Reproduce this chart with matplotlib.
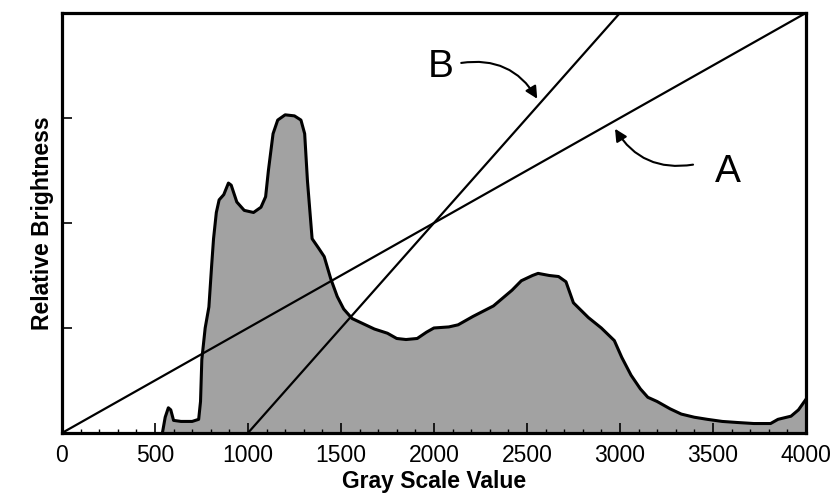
import numpy as np
import matplotlib
matplotlib.use("Agg")
from matplotlib import pyplot as plt
from matplotlib.ticker import MultipleLocator

plt.rcParams['font.family'] = ['Liberation Sans', 'DejaVu Sans']

# histogram outline (gray scale value, relative brightness)
hist_x = [540, 555, 572, 585, 600, 640, 700, 735, 745, 752, 770, 790, 805, 815, 830, 845, 870, 895,
          910, 940, 980, 1030, 1070, 1095, 1110, 1135, 1160, 1200, 1250, 1285, 1305, 1320, 1345,
          1380, 1410, 1445, 1480, 1515, 1560, 1620, 1680, 1750, 1800, 1850, 1910, 1960, 2000,
          2080, 2130, 2210, 2320, 2420, 2470, 2530, 2560, 2620, 2670, 2710, 2750, 2830, 2900,
          2970, 3010, 3060, 3110, 3150, 3200, 3270, 3330, 3400, 3470, 3550, 3630, 3720, 3810,
          3850, 3920, 3960, 4000]
hist_y = [0.0, 0.15, 0.24, 0.22, 0.12, 0.11, 0.11, 0.13, 0.3, 0.7, 1.0, 1.2, 1.6, 1.85, 2.1, 2.22,
          2.27, 2.38, 2.36, 2.2, 2.12, 2.1, 2.15, 2.25, 2.5, 2.85, 2.98, 3.03, 3.02, 2.98, 2.85,
          2.4, 1.85, 1.76, 1.68, 1.47, 1.3, 1.18, 1.09, 1.04, 0.99, 0.95, 0.9, 0.89, 0.9, 0.96,
          1.0, 1.01, 1.03, 1.11, 1.21, 1.36, 1.45, 1.5, 1.52, 1.5, 1.49, 1.44, 1.24, 1.1, 1.0,
          0.88, 0.72, 0.55, 0.42, 0.34, 0.3, 0.23, 0.18, 0.15, 0.13, 0.11, 0.1, 0.09, 0.09,
          0.13, 0.16, 0.22, 0.32]

# the two transfer lines
line_a_x = [0, 4000]
line_a_y = [0, 4]
line_b_x = [1000, 3000]
line_b_y = [0, 4]

x_ticks = [0, 500, 1000, 1500, 2000, 2500, 3000, 3500, 4000]
y_ticks = [1, 2, 3]

fig = plt.figure(figsize=(8.34, 4.99), dpi=100)
ax = fig.add_axes([0.0743, 0.1323, 0.892, 0.8417])

ax.fill_between(hist_x, hist_y, 0, color='#a2a2a2', linewidth=0)
ax.plot(hist_x, hist_y, color='black', lw=2.2)

ax.plot(line_a_x, line_a_y, color='black', lw=1.6)
ax.plot(line_b_x, line_b_y, color='black', lw=1.6)

ax.set_xlim(0, 4000)
ax.set_ylim(0, 4)
ax.set_xticks(x_ticks)
ax.set_xticklabels([str(t) for t in x_ticks])
ax.xaxis.set_minor_locator(MultipleLocator(100))
ax.set_yticks(y_ticks)
ax.set_yticklabels([])
ax.tick_params(axis='both', which='major', direction='in', length=7, width=1.2, labelsize=16.5, pad=8)
ax.tick_params(axis='x', which='minor', direction='in', length=3, width=1)
for s in ax.spines.values():
    s.set_linewidth(2.3)

ax.set_xlabel('Gray Scale Value', fontsize=16.5, fontweight='bold', labelpad=2)
ax.set_ylabel('Relative Brightness', fontsize=16.5, fontweight='bold', labelpad=-2)

# labels with curved arrows
ax.annotate('', xy=(2563, 3.16), xytext=(2132, 3.52),
            arrowprops=dict(arrowstyle='-|>', color='black', lw=1.5, mutation_scale=18,
                            connectionstyle='arc3,rad=-0.35'))
ax.text(2035, 3.49, 'B', fontsize=28, ha='center', va='center')
ax.annotate('', xy=(2966, 2.92), xytext=(3408, 2.56),
            arrowprops=dict(arrowstyle='-|>', color='black', lw=1.5, mutation_scale=18,
                            connectionstyle='arc3,rad=-0.35'))
ax.text(3580, 2.49, 'A', fontsize=28, ha='center', va='center')

fig.savefig('out.png', dpi=100)
